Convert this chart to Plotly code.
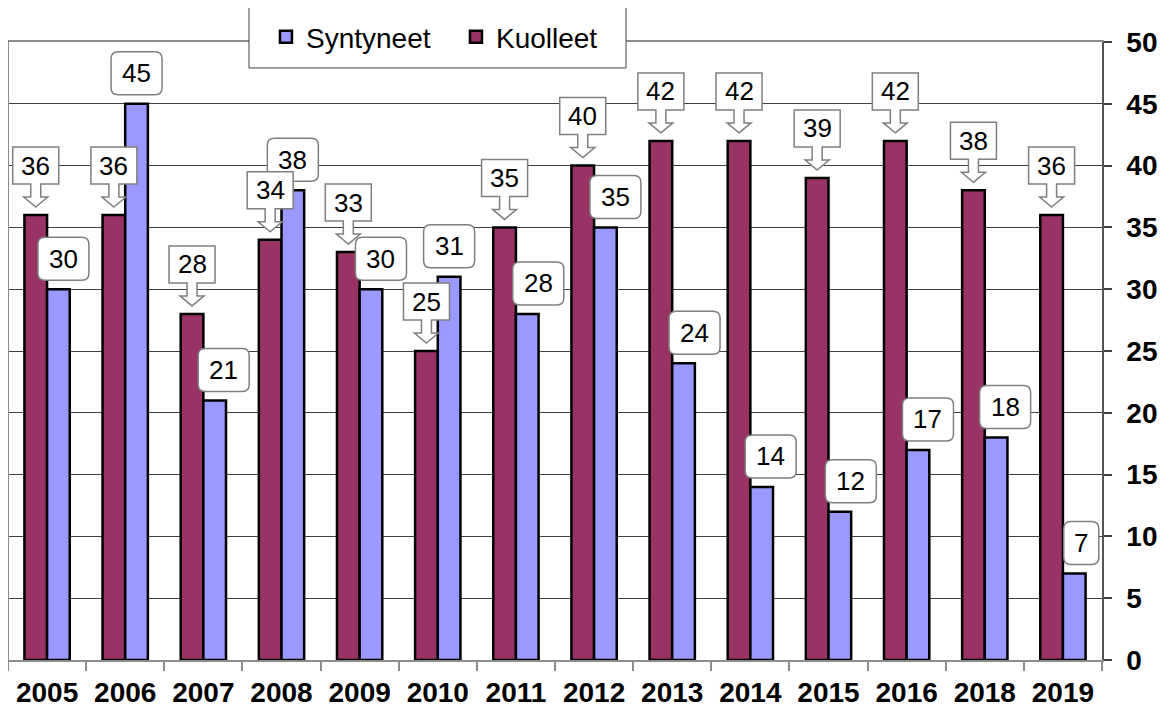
import plotly.graph_objects as go

# ---- data ----
years = ["2005", "2006", "2007", "2008", "2009", "2010", "2011",
         "2012", "2013", "2014", "2015", "2016", "2018", "2019"]
syntyneet = [30, 45, 21, 38, 30, 31, 28, 35, 24, 14, 12, 17, 18, 7]
kuolleet = [36, 36, 28, 34, 33, 25, 35, 40, 42, 42, 39, 42, 38, 36]

# label nudges (pixels) for Syntyneet value boxes
syn_label_dx = [5, 0, 9, 0, 10, 0, 11, 10, 11, 9, 11, 10, 9, 7]

MAROON = "#993366"
BLUE = "#9999FF"
FONT = "Arial, Liberation Sans, sans-serif"
BARGAP = 0.42
OFF = (1 - BARGAP) / 4  # centre offset of each bar within its group

fig = go.Figure()
fig.add_trace(go.Bar(name="Kuolleet", x=years, y=kuolleet,
                     marker=dict(color=MAROON, line=dict(color="black", width=2.5))))
fig.add_trace(go.Bar(name="Syntyneet", x=years, y=syntyneet,
                     marker=dict(color=BLUE, line=dict(color="black", width=2.5))))

shapes = []
annotations = []


def rounded_rect(x0, x1, y0, y1, r):
    return (f"M {x0+r},{y0} L {x1-r},{y0} Q {x1},{y0} {x1},{y0+r} "
            f"L {x1},{y1-r} Q {x1},{y1} {x1-r},{y1} L {x0+r},{y1} "
            f"Q {x0},{y1} {x0},{y1-r} L {x0},{y0+r} Q {x0},{y0} {x0+r},{y0} Z")


# Syntyneet labels: rounded boxes above bars
for i, v in enumerate(syntyneet):
    xc = i + OFF
    txt = str(v)
    w = 19 + 16 * len(txt)
    dx = syn_label_dx[i]
    g, h = 9, 43
    shapes.append(dict(type="path", xref="x", yref="y", xsizemode="pixel", ysizemode="pixel",
                       xanchor=xc, yanchor=v,
                       path=rounded_rect(dx - w / 2, dx + w / 2, g, g + h, 7),
                       fillcolor="white", line=dict(color="#7f7f7f", width=1.5), layer="above"))
    annotations.append(dict(x=xc, y=v, xref="x", yref="y", text=txt, showarrow=False,
                            xanchor="center", yanchor="middle", xshift=dx, yshift=g + h / 2,
                            font=dict(family=FONT, size=26, color="black")))

# Kuolleet labels: callout boxes with down arrow
callout = ("M 0,8 L 12,18 L 5,18 L 5,31 L 23,31 L 23,68 L -23,68 "
           "L -23,31 L -5,31 L -5,18 L -12,18 Z")
for i, v in enumerate(kuolleet):
    xc = i - OFF
    shapes.append(dict(type="path", xref="x", yref="y", xsizemode="pixel", ysizemode="pixel",
                       xanchor=xc, yanchor=v, path=callout,
                       fillcolor="white", line=dict(color="#7f7f7f", width=1.5), layer="above"))
    annotations.append(dict(x=xc, y=v, xref="x", yref="y", text=str(v), showarrow=False,
                            xanchor="center", yanchor="middle", yshift=49.5,
                            font=dict(family=FONT, size=26, color="black")))

# left border of plot area
shapes.append(dict(type="line", xref="paper", yref="paper", x0=0, x1=0, y0=0, y1=1,
                   line=dict(color="#8c8c8c", width=2), layer="above"))
# legend box
shapes.append(dict(type="rect", xref="paper", yref="paper",
                   x0=0.2203, x1=0.5649, y0=0.958, y1=1.058,
                   fillcolor="white", line=dict(color="#404040", width=1), layer="above"))

fig.update_layout(
    width=1160, height=702,
    margin=dict(l=0, r=66, t=34, b=50, autoexpand=False),
    paper_bgcolor="white", plot_bgcolor="white",
    barmode="group", bargap=BARGAP, bargroupgap=0,
    font=dict(family=FONT, color="black"),
    shapes=shapes, annotations=annotations,
    showlegend=True,
    legend=dict(orientation="h", traceorder="reversed",
                x=0.2358, xanchor="left", y=1.008, yanchor="middle",
                entrywidth=145,
                bgcolor="rgba(0,0,0,0)", borderwidth=0,
                font=dict(family=FONT, size=28, color="black")),
    xaxis=dict(type="category", tickson="boundaries", ticks="outside", ticklen=9,
               tickcolor="#8c8c8c", tickwidth=1.5, tickangle=0,
               showline=True, linecolor="#8c8c8c", linewidth=2, mirror=True,
               showgrid=False, ticklabelstandoff=6,
               tickfont=dict(family=FONT, size=28, color="black", weight="bold")),
    yaxis=dict(side="right", range=[0, 50], dtick=5, tick0=0,
               ticks="outside", ticklen=8, tickcolor="#404040", tickwidth=1.5,
               showline=True, linecolor="#555555", linewidth=1.5,
               showgrid=True, gridcolor="#404040", gridwidth=1, zeroline=False,
               ticklabelstandoff=9,
               tickfont=dict(family=FONT, size=28, color="black", weight="bold")),
)

fig.write_html("out.html")
